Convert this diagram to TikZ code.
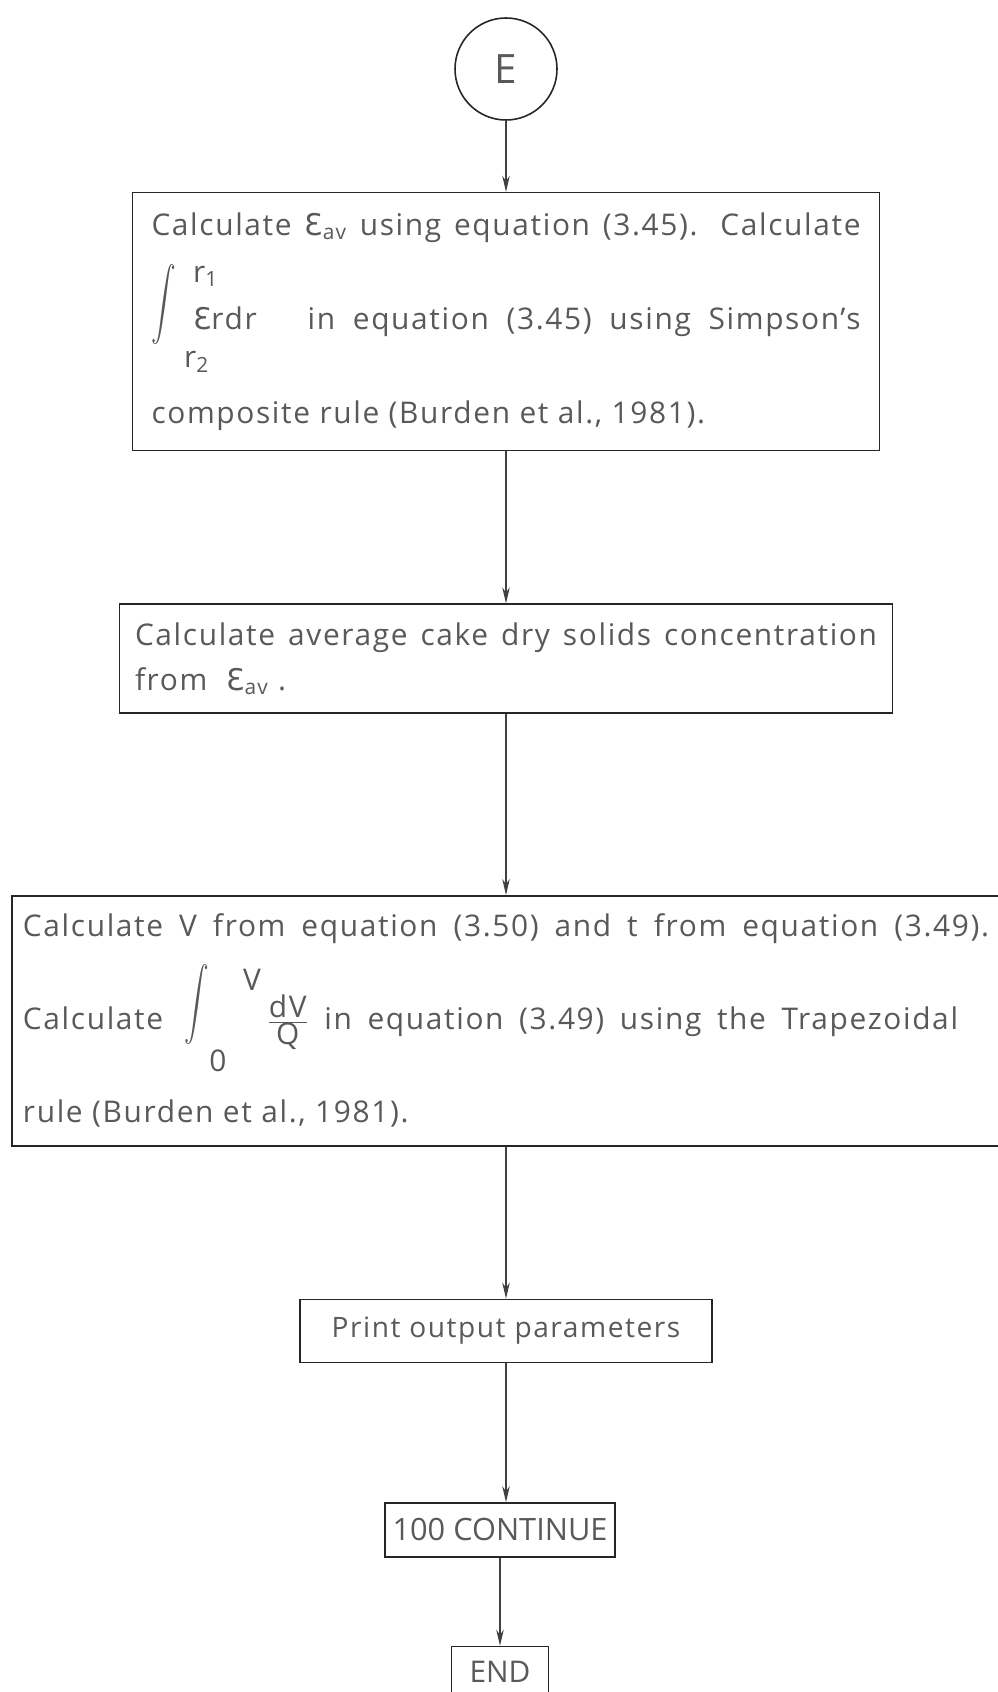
\documentclass[tikz,border=0pt]{standalone}
\usepackage{fontspec}
\setmainfont{Open Sans}[LetterSpace=5.5]
\newfontfamily\plainfont{Open Sans}
\newfontfamily\openEfont{DejaVu Sans}[LetterSpace=5.5]
\usetikzlibrary{arrows.meta,positioning}

% open epsilon (porosity), a tall integral sign and raised/lowered limits
\newcommand{\openE}{{\openEfont Ɛ}}
\newcommand{\tallint}{\smash{\raisebox{5.5pt}{\scalebox{1.4}[2.05]{$\displaystyle\int$}}}}
\newcommand{\intlim}[2]{\rlap{\raisebox{#1}[0pt][0pt]{#2}}}
% a text line spread out to a given width
\newcommand{\spread}[2]{\makebox[#1][s]{#2}}

\tikzset{
    %Define standard arrow tip
    >={Stealth[length=3.2mm,width=1.5mm]},
    %Define style for the process boxes
    proc/.style={
      rectangle,
      draw=black!85, line width=0.9pt,
      text=black!65,
      font=\fontsize{17}{25.6}\selectfont,
      inner ysep=0pt},
    %Define style for the connector circle
    conn/.style={
      circle,
      draw=black!85, line width=0.9pt,
      text=black!65,
      minimum size=2.04cm,
      inner sep=0pt},
    % Define arrow style
    arr/.style={
      ->,
      draw=black!75,
      line width=0.6pt}
}

\begin{document}
\begin{tikzpicture}[node distance=1cm]
    \useasboundingbox (0,0) rectangle (19.94,-33.84);

    \node[conn, font=\plainfont\fontsize{23}{23}\selectfont] (conE) at (10.12,-1.38) {E};

    \node[proc, below=1.42cm of conE, minimum width=14.94cm, minimum height=5.16cm,
      align=left] (epsav)
      {\spread{14.18cm}{Calculate \openE\textsubscript{av} using equation (3.45). Calculate}\\[28pt]
       \spread{14.18cm}{\tallint\hspace{0.27em}\intlim{-0.76cm}{r\textsubscript{2}}\hspace{0.3em}\intlim{0.94cm}{r\textsubscript{1}}\openE rdr\hspace{1.7em}in equation (3.45) using Simpson's}\\[28pt]
       composite rule (Burden et al., 1981).};

    \node[proc, below=3.04cm of epsav, minimum width=15.46cm, minimum height=2.18cm,
      align=left] (drysolids)
      {\spread{14.84cm}{Calculate average cake dry solids concentration}\\
       from \ \openE\textsubscript{av} .};

    \node[proc, below=3.62cm of drysolids, minimum width=19.76cm, minimum height=5.0cm,
      align=left] (volume)
      {\spread{19.32cm}{Calculate V from equation (3.50) and t from equation (3.49).}\\[27.3pt]
       \spread{18.7cm}{Calculate\hspace{0.72em}\tallint\intlim{-0.84cm}{0}\hspace{1.13em}\raisebox{0.78cm}[0pt][0pt]{V}\hspace{0.2em}\smash{$\frac{\mbox{dV}}{\mbox{Q}}$}\ in equation (3.49) using the Trapezoidal}\\[27.3pt]
       rule (Burden et al., 1981).};

    \node[proc, below=3.04cm of volume, minimum width=8.24cm, minimum height=1.26cm,
      font=\fontsize{16}{20}\selectfont] (output) {Print output parameters};

    \node[proc, below=2.78cm of output, xshift=-0.12cm, minimum width=4.6cm, minimum height=1.08cm,
      font=\plainfont\fontsize{17.5}{20}\selectfont] (cont) {100 CONTINUE};

    \node[proc, below=1.76cm of cont, minimum width=1.94cm, minimum height=1.5cm,
      font=\plainfont\fontsize{17}{20}\selectfont] (stop) {\rule[-0.5cm]{0pt}{0.1pt}END};

    \draw[arr] (conE) -- (epsav);
    \draw[arr] (epsav) -- (drysolids);
    \draw[arr] (drysolids) -- (volume);
    \draw[arr] (volume) -- (output);
    \draw[arr] (output) -- (output |- cont.north);
    \draw[arr] (cont) -- (stop);
\end{tikzpicture}
\end{document}
